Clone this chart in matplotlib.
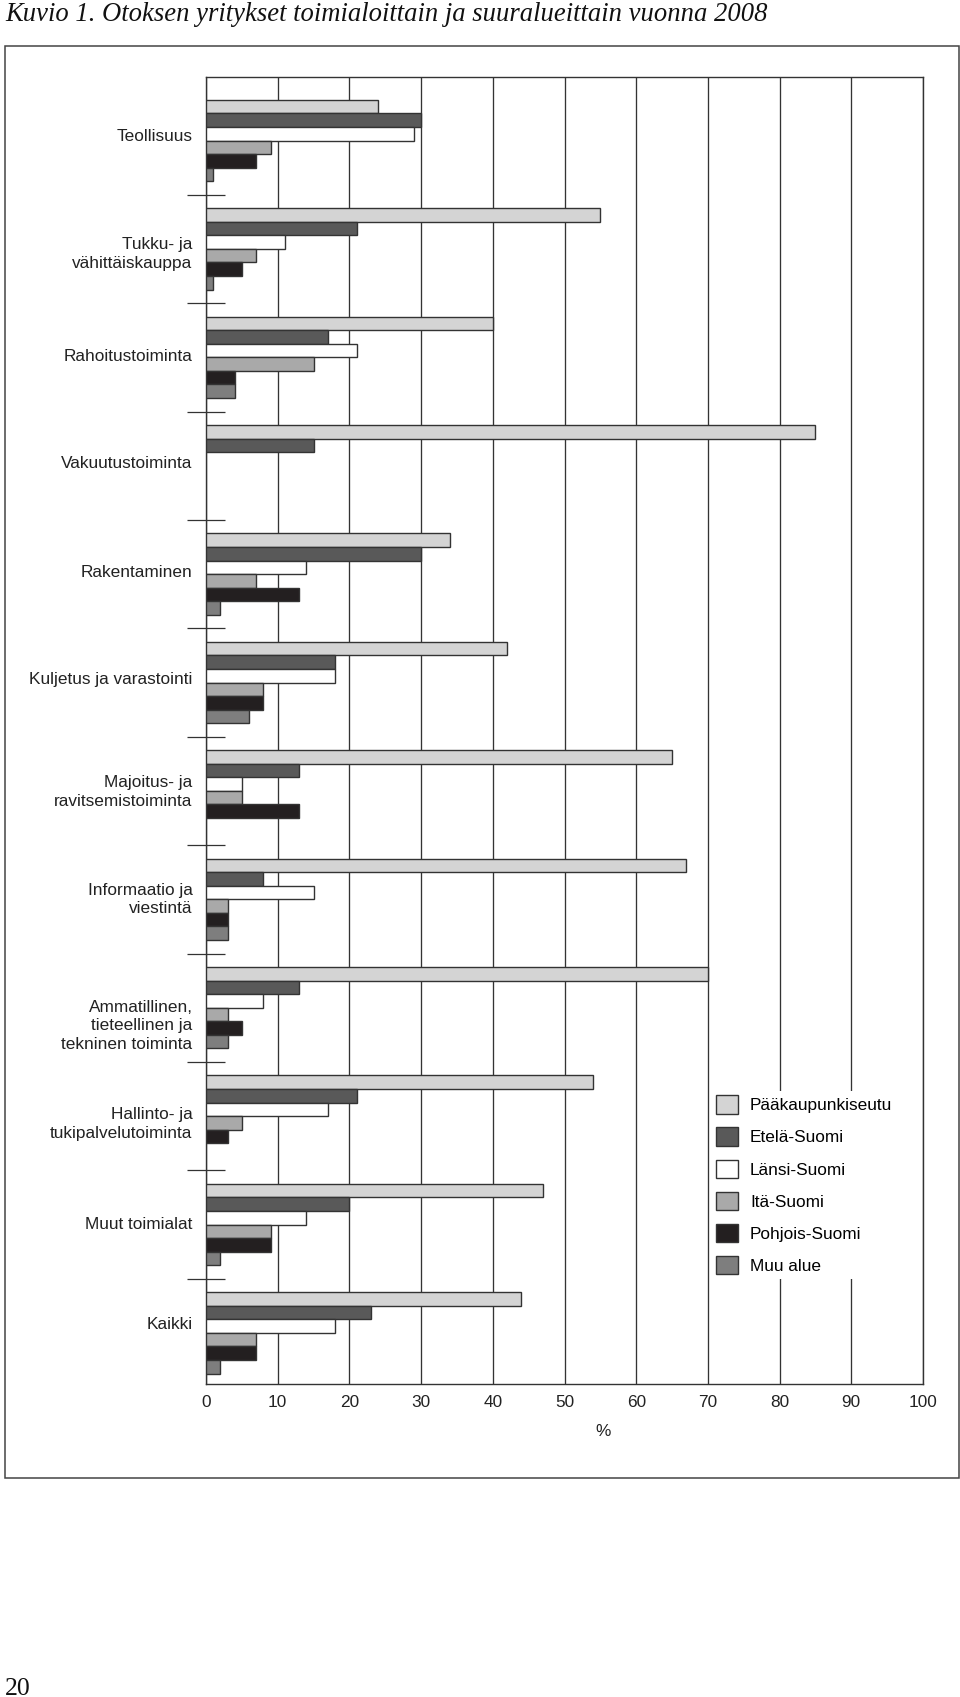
import matplotlib.pyplot as plt
import numpy as np
from matplotlib.patches import Rectangle

#======= Donnees =======

toimialat = ['Teollisuus', 'Tukku- ja\nvähittäiskauppa', 'Rahoitustoiminta',
             'Vakuutustoiminta', 'Rakentaminen', 'Kuljetus ja varastointi',
             'Majoitus- ja\nravitsemistoiminta', 'Informaatio ja\nviestintä',
             'Ammatillinen,\ntieteellinen ja\ntekninen toiminta',
             'Hallinto- ja\ntukipalvelutoiminta', 'Muut toimialat', 'Kaikki']

alueet = ['Pääkaupunkiseutu', 'Etelä-Suomi', 'Länsi-Suomi', 'Itä-Suomi',
          'Pohjois-Suomi', 'Muu alue']

# % par toimiala, dans l'ordre de toimialat
paakaupunkiseutu = [24, 55, 40, 85, 34, 42, 65, 67, 70, 54, 47, 44]
etela_suomi      = [30, 21, 17, 15, 30, 18, 13, 8, 13, 21, 20, 23]
lansi_suomi      = [29, 11, 21, 0, 14, 18, 5, 15, 8, 17, 14, 18]
ita_suomi        = [9, 7, 15, 0, 7, 8, 5, 3, 3, 5, 9, 7]
pohjois_suomi    = [7, 5, 4, 0, 13, 8, 13, 3, 5, 3, 9, 7]
muu_alue         = [1, 1, 4, 0, 2, 6, 0, 3, 3, 0, 2, 2]

series = [paakaupunkiseutu, etela_suomi, lansi_suomi, ita_suomi,
          pohjois_suomi, muu_alue]
couleurs = ['#d4d4d4', '#595959', '#ffffff', '#a9a9a9', '#231f20', '#7e7e7e']

xticks = list(range(0, 101, 10))

#======= Style =======

sans = ['Liberation Sans', 'DejaVu Sans']
serif = ['Liberation Serif', 'DejaVu Serif']
plt.rcParams['font.family'] = sans
trait = '#333333'
texte = '#222222'
fs = 12.4

# petit decalage vertical des etiquettes (px, vers le bas), comme dans l'original
decalage = [-4, 5, -1, -2, -2, -3, 1, 0, 18, 8, 0, -8]

fig = plt.figure(figsize=(9.6, 16.97), dpi=100)
W, H = 960, 1697

# cadre exterieur
fig.patches.append(Rectangle((4.5 / W, 1 - 1478 / H), 954 / W, 1432.5 / H,
                             transform=fig.transFigure, fill=False,
                             edgecolor='#444444', linewidth=1.1))

ax = fig.add_axes([206 / W, 1 - 1384.3 / H, 717 / W, 1307.6 / H])

n = len(toimialat)
centres = np.arange(n)
h = 0.125
for j, (vals, c) in enumerate(zip(series, couleurs)):
    vals = np.array(vals, dtype=float)
    y = centres - 0.375 + h / 2 + j * h
    m = vals > 0
    ax.barh(y[m], vals[m], height=h, color=c, edgecolor=trait,
            linewidth=1.0, zorder=3, label=alueet[j])

ax.set_xlim(0, 100)
ax.set_ylim(n - 1 + 0.474, -0.589)
ax.set_xticks(xticks)
ax.set_xticklabels([str(t) for t in xticks], fontsize=fs, color=texte)
ax.xaxis.grid(True, color=trait, linewidth=0.95)
ax.set_axisbelow(True)
ax.tick_params(axis='x', length=0, pad=8)

# etiquettes des toimialat
ax.set_yticks([])
for c, lab, d in zip(centres, toimialat, decalage):
    ax.annotate(lab, xy=(0, c), xycoords=('axes fraction', 'data'),
                xytext=(-9.7, -d * 0.72), textcoords='offset points',
                ha='right', va='center', fontsize=fs, color=texte,
                linespacing=1.3, multialignment='right')
# separateurs entre groupes
ax.set_yticks(np.arange(0.5, n - 1), minor=True)
ax.tick_params(axis='y', which='minor', direction='inout', length=28,
               width=0.9, color=trait)

for s in ax.spines.values():
    s.set_color(trait)
    s.set_linewidth(1.0)

ax.set_xlabel('%', fontsize=fs, color=texte, labelpad=10, x=0.5537)

leg = ax.legend(loc='upper left', bbox_to_anchor=(712 / W, 1 - 1091 / H),
                bbox_transform=fig.transFigure, fontsize=fs, frameon=True,
                fancybox=False, borderaxespad=0, borderpad=0.25,
                handlelength=1.25, handleheight=1.25, handletextpad=0.7,
                labelspacing=0.81)
leg.get_frame().set_facecolor('white')
leg.get_frame().set_edgecolor('none')
leg.get_frame().set_alpha(1)
leg.set_zorder(5)

fig.text(5 / W, 1 - 21 / H,
         'Kuvio 1. Otoksen yritykset toimialoittain ja suuralueittain vuonna 2008',
         family=serif, style='italic', fontsize=19.2, va='baseline', ha='left',
         color='#111111')
fig.text(5 / W, 1 - 1695 / H, '20', family=serif, fontsize=18.5,
         va='baseline', ha='left', color='#111111')

fig.savefig('out.png', dpi=100)
